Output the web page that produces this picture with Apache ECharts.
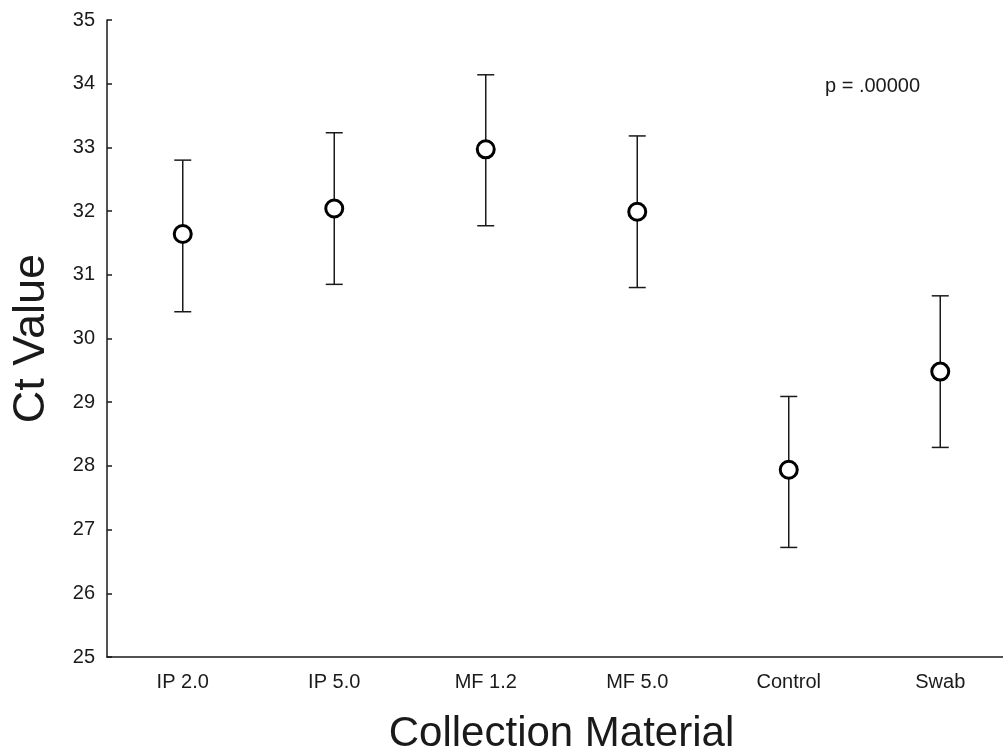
<!DOCTYPE html>
<html>
<head>
<meta charset="utf-8">
<script src="https://cdn.jsdelivr.net/npm/echarts@6/dist/echarts.min.js"></script>
<style>
  html, body { margin: 0; padding: 0; background: #fff; }
  #chart { width: 1003px; height: 756px; }
</style>
</head>
<body>
<div id="chart"></div>
<script>
// Mean Ct value per collection material with its interval bounds
const categories = ['IP 2.0', 'IP 5.0', 'MF 1.2', 'MF 5.0', 'Control', 'Swab'];
const means = [31.64, 32.04, 32.97, 31.99, 27.94, 29.48];
const upper = [32.80, 33.23, 34.14, 33.18, 29.09, 30.67];
const lower = [30.42, 30.85, 31.77, 30.80, 26.72, 28.29];
const yTicks = { min: 25, max: 35, step: 1 };
const pText = 'p = .00000';

const ink = '#1a1a1a';
const font = '"Liberation Sans", Arial, sans-serif';

const errorData = categories.map((c, i) => [i, lower[i], upper[i]]);
const meanData = categories.map((c, i) => [i, means[i]]);

const chart = echarts.init(document.getElementById('chart'), null, { renderer: 'canvas' });

chart.setOption({
  backgroundColor: '#fff',
  animation: false,
  grid: { left: 107, top: 20, width: 909, height: 637, containLabel: false, outerBoundsMode: 'none' },
  xAxis: {
    type: 'category',
    data: categories,
    boundaryGap: true,
    name: 'Collection Material',
    nameLocation: 'middle',
    nameGap: 56,
    nameTextStyle: { fontFamily: font, fontSize: 42, color: ink },
    axisLine: { lineStyle: { color: ink, width: 1.5 } },
    axisTick: { inside: true, length: 5, alignWithLabel: true, lineStyle: { color: ink, width: 1.5 } },
    axisLabel: { fontFamily: font, fontSize: 20, color: ink, margin: 15 },
    splitLine: { show: false }
  },
  yAxis: {
    type: 'value',
    min: yTicks.min,
    max: yTicks.max,
    interval: yTicks.step,
    name: 'Ct Value',
    nameLocation: 'middle',
    nameGap: 53,
    nameRotate: 90,
    nameTextStyle: { fontFamily: font, fontSize: 45, color: ink },
    axisLine: { show: true, lineStyle: { color: ink, width: 1.5 } },
    axisTick: { show: true, inside: true, length: 5, lineStyle: { color: ink, width: 1.5 } },
    axisLabel: { fontFamily: font, fontSize: 20, color: ink, margin: 12 },
    splitLine: { show: false }
  },
  graphic: [{
    type: 'text',
    left: 825,
    top: 76,
    style: { text: pText, fontFamily: font, fontSize: 20, fill: ink }
  }],
  series: [
    {
      type: 'custom',
      name: 'interval',
      data: errorData,
      z: 2,
      renderItem: function (params, api) {
        const x = api.value(0);
        const lo = api.coord([x, api.value(1)]);
        const hi = api.coord([x, api.value(2)]);
        const half = 8.5;
        const style = { stroke: ink, lineWidth: 1.5, fill: null };
        return {
          type: 'group',
          children: [
            { type: 'line', shape: { x1: hi[0], y1: hi[1], x2: lo[0], y2: lo[1] }, style: style },
            { type: 'line', shape: { x1: hi[0] - half, y1: hi[1], x2: hi[0] + half, y2: hi[1] }, style: style },
            { type: 'line', shape: { x1: lo[0] - half, y1: lo[1], x2: lo[0] + half, y2: lo[1] }, style: style }
          ]
        };
      }
    },
    {
      type: 'scatter',
      name: 'mean',
      data: meanData,
      z: 3,
      symbol: 'circle',
      symbolSize: 17,
      itemStyle: { color: '#fff', borderColor: '#000', borderWidth: 3, opacity: 1 }
    }
  ]
});
</script>
</body>
</html>
